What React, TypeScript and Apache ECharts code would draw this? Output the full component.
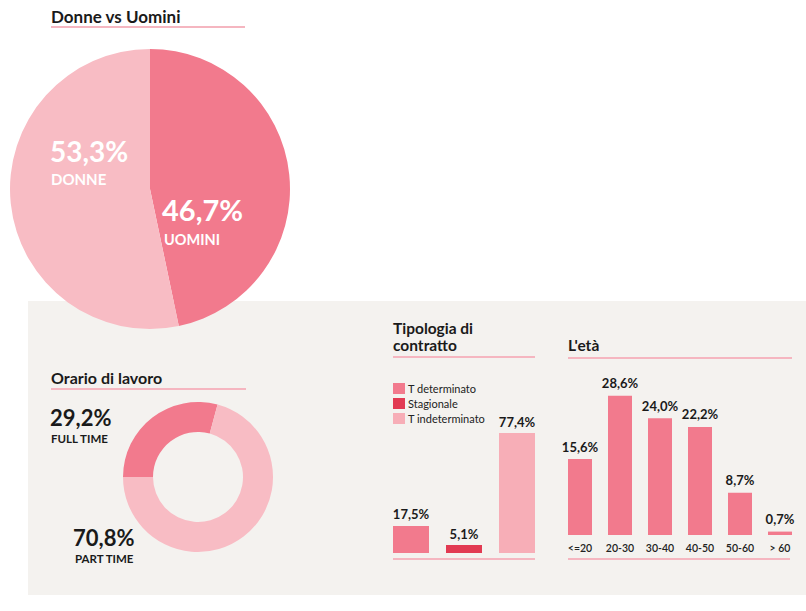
import React, { useEffect, useRef } from "react";
import * as echarts from "echarts";

const genderLabels = ["UOMINI", "DONNE"];
const genderValues = [46.7, 53.3];
const hoursLabels = ["FULL TIME", "PART TIME"];
const hoursValues = [29.2, 70.8];
const contractLabels = ["T determinato", "Stagionale", "T indeterminato"];
const contractValues = [17.5, 5.1, 77.4];
const ageLabels = ["<=20", "20-30", "30-40", "40-50", "50-60", "> 60"];
const ageValues = [15.6, 28.6, 24.0, 22.2, 8.7, 0.7];

const DARK = "#f27a8d";
const LIGHT = "#f8bcc4";
const RED = "#e23a52";
const BARLIGHT = "#f7aeb7";
const LINE = "#f5b6c0";
const INK = "#1a1a1a";
const FONT = "Lato, 'Noto Sans', sans-serif";

const fmt = (v: number) => v.toFixed(1).replace(".", ",") + "%";

export default function App() {
  const ref = useRef<HTMLDivElement>(null);
  useEffect(() => {
    if (!ref.current) return;
    const chart = echarts.init(ref.current, null, { renderer: "svg" });
    const contractColors = [DARK, RED, BARLIGHT];
    const txt = (text: string, x: number, y: number, size: number, color = INK, weight: any = "bold") => ({
      type: "text",
      z: 100,
      style: {
        text,
        x,
        y,
        fill: color,
        font: `${weight} ${size}px ${FONT}`,
        verticalAlign: "middle",
      },
    });
    const line = (x1: number, y1: number, x2: number) => ({
      type: "line",
      z: 50,
      shape: { x1, y1, x2, y2: y1 },
      style: { stroke: LINE, lineWidth: 2 },
    });
    chart.setOption({
      animation: false,
      textStyle: { fontFamily: FONT },
      graphic: [
        { type: "rect", z: -10, shape: { x: 28, y: 301, width: 778, height: 294 }, style: { fill: "#f4f2ef" } },
        txt("Donne vs Uomini", 51, 16, 17),
        line(51, 27, 245),
        txt(fmt(genderValues[1]), 50, 151, 28, "#ffffff"),
        txt(genderLabels[1], 51, 179, 15, "#ffffff"),
        txt(fmt(genderValues[0]), 162, 209, 29, "#ffffff"),
        txt(genderLabels[0], 164, 239, 14.5, "#ffffff"),
        txt("Orario di lavoro", 51, 377, 16),
        line(51, 389, 246),
        txt(fmt(hoursValues[0]), 50, 417, 22),
        txt(hoursLabels[0], 51, 438, 11.5),
        txt(fmt(hoursValues[1]), 73, 537, 22),
        txt(hoursLabels[1], 75, 558, 11.5),
        txt("Tipologia di", 393, 328, 15.5),
        txt("contratto", 393, 345, 15.5),
        line(393, 357, 535),
        line(393, 559, 535),
        txt("L'età", 568, 345, 15.5),
        line(568, 358, 792),
        line(568, 559, 790),
      ],
      legend: {
        data: contractLabels,
        orient: "vertical",
        left: 393,
        top: 383,
        padding: 0,
        itemWidth: 12,
        itemHeight: 11,
        itemGap: 4,
        icon: "rect",
        textStyle: { fontSize: 11, color: "#222", fontFamily: FONT, padding: [0, 0, 0, -2] },
        selectedMode: false,
      },
      grid: [
        { left: 384.5, top: 398, width: 159, height: 155 },
        { left: 560, top: 389, width: 240, height: 146 },
      ],
      xAxis: [
        { type: "category", gridIndex: 0, data: contractLabels, show: false },
        {
          type: "category",
          gridIndex: 1,
          data: ageLabels,
          axisLine: { show: false },
          axisTick: { show: false },
          axisLabel: { fontSize: 10.5, fontWeight: 600, color: "#222", margin: 7, fontFamily: FONT },
        },
      ],
      yAxis: [
        { type: "value", gridIndex: 0, min: 0, max: 100, show: false },
        { type: "value", gridIndex: 1, min: 0, max: 30, show: false },
      ],
      series: [
        {
          type: "pie",
          center: [150, 189],
          radius: 140,
          startAngle: 90,
          clockwise: true,
          silent: true,
          label: { show: false },
          labelLine: { show: false },
          data: genderLabels.map((n, i) => ({ name: n, value: genderValues[i], itemStyle: { color: i === 0 ? DARK : LIGHT } })),
        },
        {
          type: "pie",
          center: [198, 477],
          radius: [45, 75],
          startAngle: 180,
          clockwise: true,
          silent: true,
          label: { show: false },
          labelLine: { show: false },
          data: hoursLabels.map((n, i) => ({ name: n, value: hoursValues[i], itemStyle: { color: i === 0 ? DARK : LIGHT } })),
        },
        ...contractLabels.map((name, i) => ({
          type: "bar",
          name,
          xAxisIndex: 0,
          yAxisIndex: 0,
          stack: "contract",
          barWidth: 36,
          itemStyle: { color: contractColors[i] },
          label: {
            show: true,
            position: "top",
            distance: 5,
            formatter: (p: any) => fmt(p.value),
            fontSize: 13,
            fontWeight: "bold",
            color: INK,
            fontFamily: FONT,
          },
          data: contractValues.map((v, j) => (j === i ? v : null)),
        })),
        {
          type: "bar",
          name: "età",
          xAxisIndex: 1,
          yAxisIndex: 1,
          barWidth: 24,
          itemStyle: { color: DARK },
          label: {
            show: true,
            position: "top",
            distance: 6,
            formatter: (p: any) => fmt(p.value),
            fontSize: 13,
            fontWeight: "bold",
            color: INK,
            fontFamily: FONT,
          },
          data: ageValues,
        },
      ],
    });
    return () => chart.dispose();
  }, []);
  return <div ref={ref} style={{ width: 806, height: 611, position: "absolute", left: 0, top: 0 }} />;
}
